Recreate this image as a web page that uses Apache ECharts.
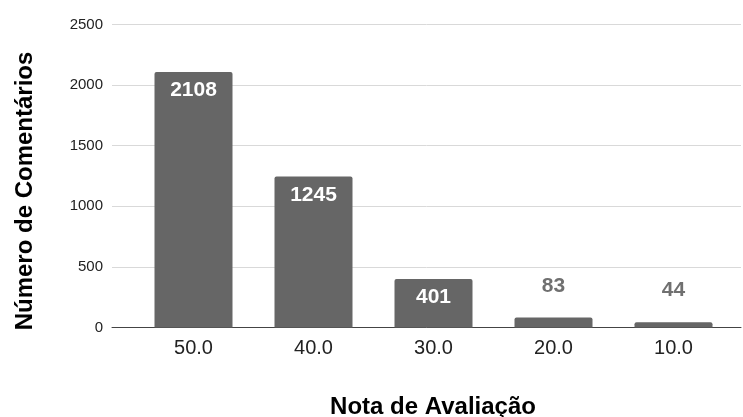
<!DOCTYPE html>
<html><head><meta charset="utf-8">
<script src="https://cdn.jsdelivr.net/npm/echarts@6/dist/echarts.min.js"></script>
<style>html,body{margin:0;padding:0;background:#fff}#c{width:743px;height:417px}</style>
</head><body><div id="c"></div>
<script>
const categories = ['50.0', '40.0', '30.0', '20.0', '10.0'];
const values = [2108, 1245, 401, 83, 44];
const yTicks = [0, 500, 1000, 1500, 2000, 2500];
const xTitle = 'Nota de Avaliação';
const yTitle = 'Número de Comentários';

const font = 'Liberation Sans, Arial, sans-serif';
const chart = echarts.init(document.getElementById('c'), null, {renderer: 'canvas'});
const yMin = yTicks[0], yMax = yTicks[yTicks.length - 1], yStep = yTicks[1] - yTicks[0];
chart.setOption({
  animation: false,
  grid: [
    {left: 112, right: 2, top: 24.5, bottom: 89.5},
    {left: 133.5, width: 600, top: 24.5, bottom: 89.5}
  ],
  xAxis: [
    {gridIndex: 0, type: 'value', min: 0, max: 1, show: true,
     axisLine: {show: true, onZero: false, lineStyle: {color: '#444', width: 1}},
     axisTick: {show: false}, axisLabel: {show: false}, splitLine: {show: false}},
    {gridIndex: 1, type: 'category', data: categories,
     axisLine: {show: false}, axisTick: {show: false},
     axisLabel: {color: '#222', fontFamily: font, fontSize: 20, margin: 11}}
  ],
  yAxis: [
    {gridIndex: 0, type: 'value', min: yMin, max: yMax, interval: yStep,
     axisLine: {show: false}, axisTick: {show: false},
     axisLabel: {color: '#222', fontFamily: font, fontSize: 15, margin: 9,
                 formatter: function (v) { return String(v); }},
     splitLine: {lineStyle: {color: '#d9d9d9', width: 1}}},
    {gridIndex: 1, type: 'value', min: yMin, max: yMax, interval: yStep, show: false,
     splitLine: {show: false}}
  ],
  series: [{
    type: 'bar', xAxisIndex: 1, yAxisIndex: 1, data: values.map(function (v) {
      const inside = v > 300;
      return {value: v, label: inside ? {
        position: 'insideTop', distance: 8, color: '#fff'
      } : {position: 'top', distance: 21, color: '#707070'}};
    }),
    barWidth: '65%',
    itemStyle: {color: '#666666', borderRadius: [2, 2, 0, 0]},
    label: {show: true, fontFamily: font, fontWeight: 'bold', fontSize: 21},
    z: 3
  }],
  graphic: [
    {type: 'text', x: 433, y: 407,
     style: {text: xTitle, font: 'bold 24px ' + font, fill: '#000', align: 'center', verticalAlign: 'middle'}},
    {type: 'text', x: 25, y: 191, rotation: Math.PI / 2,
     style: {text: yTitle, font: 'bold 24px ' + font, fill: '#000', align: 'center', verticalAlign: 'middle'}}
  ]
});
</script></body></html>
